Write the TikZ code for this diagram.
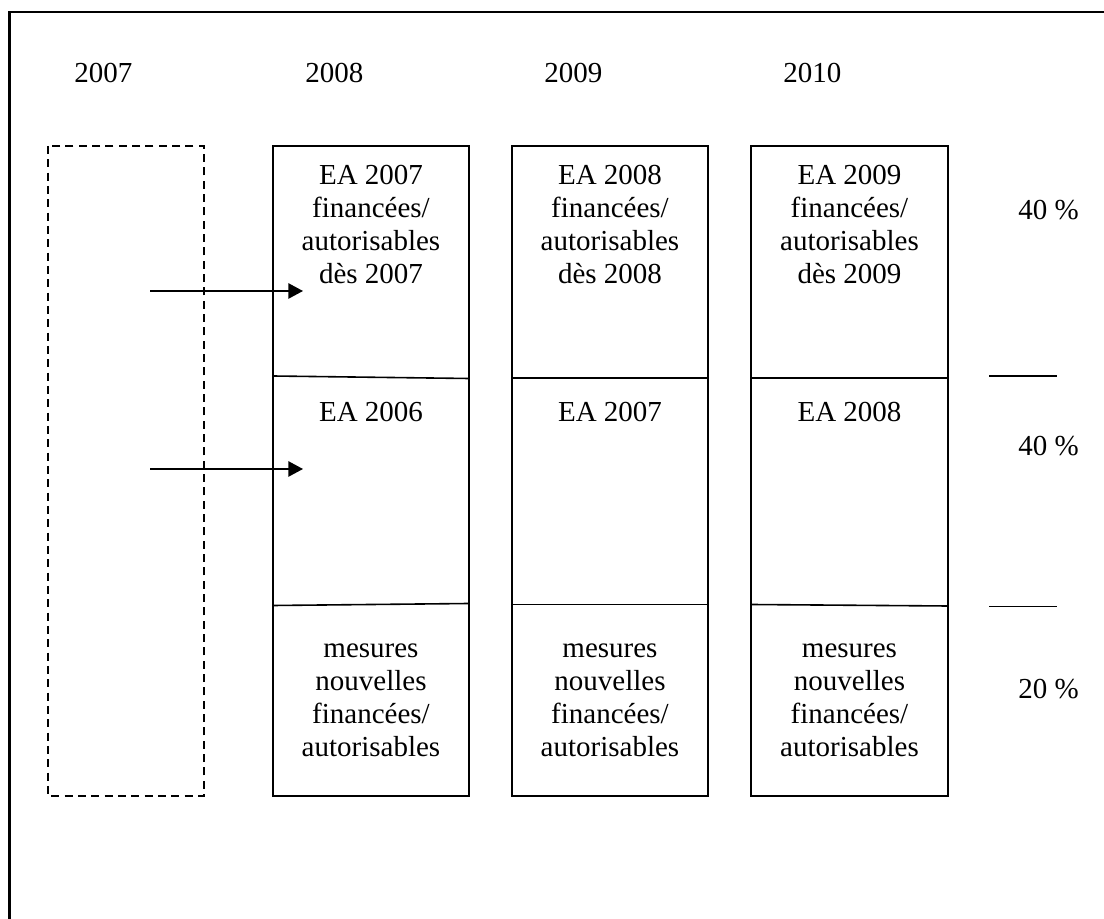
\documentclass[tikz,border=0pt]{standalone}
\usepackage{fontspec}
\setmainfont{Liberation Serif}
\usetikzlibrary{arrows.meta}
\begin{document}
\begin{tikzpicture}[x=0.75pt,y=-0.75pt,
  frame/.style={line width=1.7pt},
  colbox/.style={line width=1.35pt},
  sepline/.style={line width=1.2pt},
  dbox/.style={line width=1.35pt, dash pattern=on 6pt off 4pt},
  lbl/.style={font=\fontsize{21.75pt}{24.75pt}\selectfont, inner sep=0pt, align=center, anchor=north},
  yr/.style={font=\fontsize{21.75pt}{24.75pt}\selectfont, inner sep=0pt, anchor=base west},
  arr/.style={line width=1.2pt, -{Triangle[length=11pt,width=11.5pt]}},
]
\useasboundingbox (0,0) rectangle (1104,919);
% outer frame (top and left visible)
\draw[frame] (9.5,919) -- (9.5,12) -- (1104,12);

% years
\node[yr] (y07) at (74,83) {2007};
\node[yr] (y08) at (305,83) {2008};
\node[yr] (y09) at (544,83) {2009};
\node[yr] (y10) at (783,83) {2010};

% dashed box
\draw[dbox] (48,146) rectangle (204,796);

% columns
\draw[colbox] (273,146) rectangle (469,796);
\draw[colbox] (512,146) rectangle (708,796);
\draw[colbox] (751,146) rectangle (948,796);

% dividers
\draw[sepline] (273,376) -- (469,378.5);
\draw[sepline] (273,605.5) -- (469,603.5);
\draw[sepline] (512,378) -- (708,378);
\draw[sepline] (512,604.5) -- (708,604.5);
\draw[sepline] (751,378) -- (948,378);
\draw[sepline] (751,604.5) -- (948,606);

% texts, column 1
\node[lbl] (c1t) at (371,161) {\strut EA 2007\\financées/\\autorisables\\dès 2007};
\node[lbl] (c1m) at (371,398) {\strut EA 2006};
\node[lbl] (c1b) at (371,634) {\strut mesures\\nouvelles\\financées/\\autorisables};
% column 2
\node[lbl] (c2t) at (610,161) {\strut EA 2008\\financées/\\autorisables\\dès 2008};
\node[lbl] (c2m) at (610,398) {\strut EA 2007};
\node[lbl] (c2b) at (610,634) {\strut mesures\\nouvelles\\financées/\\autorisables};
% column 3
\node[lbl] (c3t) at (849.5,161) {\strut EA 2009\\financées/\\autorisables\\dès 2009};
\node[lbl] (c3m) at (849.5,398) {\strut EA 2008};
\node[lbl] (c3b) at (849.5,634) {\strut mesures\\nouvelles\\financées/\\autorisables};

% percentages
\node[yr] (p1) at (1018,220) {40 \%};
\node[yr] (p2) at (1018,456) {40 \%};
\node[yr] (p3) at (1018,699) {20 \%};
\draw[sepline] (989,376) -- (1057,376);
\draw[sepline] (989,606.5) -- (1057,606.5);

% arrows
\coordinate (a1s) at (150,291);
\coordinate (a1e) at (303,291);
\coordinate (a2s) at (150,469);
\coordinate (a2e) at (303,469);
\draw[arr] (a1s) -- (a1e);
\draw[arr] (a2s) -- (a2e);
\end{tikzpicture}
\end{document}
